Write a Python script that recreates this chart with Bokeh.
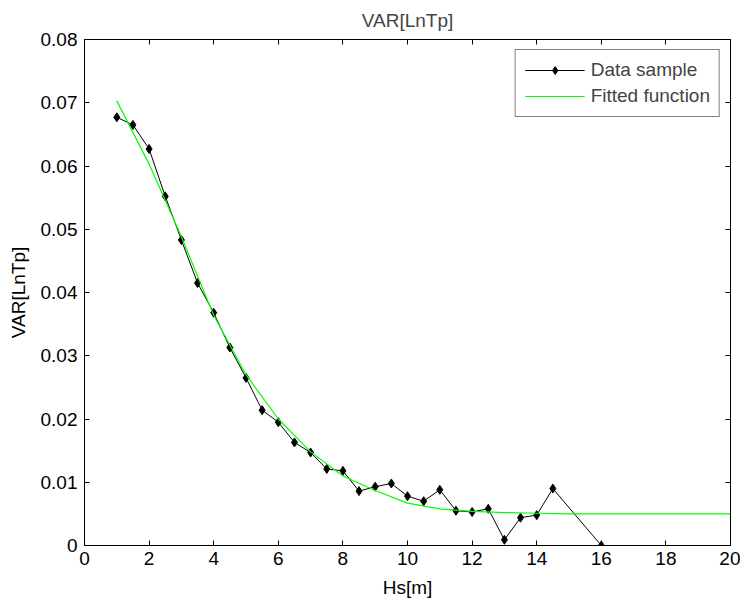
from bokeh.plotting import figure
from bokeh.models import FixedTicker, LinearAxis, Range1d
from bokeh.embed import file_html
from bokeh.resources import INLINE

# Data sample
hs = [1, 1.5, 2, 2.5, 3, 3.5, 4, 4.5, 5, 5.5, 6, 6.5, 7, 7.5, 8, 8.5, 9, 9.5,
      10, 10.5, 11, 11.5, 12, 12.5, 13, 13.5, 14, 14.5, 16]
var_lntp = [0.0677, 0.0665, 0.0627, 0.0552, 0.0483, 0.0415, 0.0368, 0.0313,
            0.0265, 0.0214, 0.0195, 0.0163, 0.0147, 0.0121, 0.0118, 0.0086,
            0.0093, 0.0098, 0.0078, 0.0070, 0.0088, 0.0055, 0.0053, 0.0058,
            0.0009, 0.0044, 0.0048, 0.0090, 0.0000]

# Fitted function
fit_x = [1, 2, 3, 4, 5, 6, 7, 8, 9, 10, 11, 12, 13, 14, 15, 16, 17, 18, 19, 20]
fit_y = [0.0703, 0.0603, 0.0488, 0.0364, 0.0270, 0.0200, 0.0148, 0.0110,
         0.0087, 0.0067, 0.0058, 0.0054, 0.0052, 0.0051, 0.0050, 0.0050,
         0.0050, 0.0050, 0.0050, 0.0050]

xticks = [0, 2, 4, 6, 8, 10, 12, 14, 16, 18, 20]
yticks = [0, 0.01, 0.02, 0.03, 0.04, 0.05, 0.06, 0.07, 0.08]
ytick_labels = ["0", "0.01", "0.02", "0.03", "0.04", "0.05", "0.06", "0.07", "0.08"]

FONT = "Liberation Sans"
FS = "19px"

p = figure(width=740, height=601, output_backend="svg", toolbar_location=None,
           x_range=Range1d(0, 20), y_range=Range1d(0, 0.08),
           min_border_left=84, min_border_right=10, min_border_top=39,
           min_border_bottom=56)
p.title.text = "VAR[LnTp]"
p.title.align = "center"
p.title.vertical_align = "top"
p.title.text_font = FONT
p.title.text_font_size = FS
p.title.text_font_style = "normal"
p.title.standoff = 14

p.xgrid.visible = False
p.ygrid.visible = False
p.outline_line_color = "black"
p.outline_line_width = 1
p.background_fill_color = "white"
p.border_fill_color = "white"

def style_axis(ax):
    ax.axis_line_color = "black"
    ax.major_tick_in = 5
    ax.major_tick_out = 0
    ax.minor_tick_in = 0
    ax.minor_tick_out = 0
    ax.major_tick_line_color = "black"
    ax.major_label_text_font = FONT
    ax.major_label_text_font_size = FS
    ax.major_label_text_color = "black"
    ax.axis_label_text_font = FONT
    ax.axis_label_text_font_size = FS
    ax.axis_label_text_font_style = "normal"
    ax.axis_label_text_color = "black"

xa = p.xaxis[0]
xa.ticker = FixedTicker(ticks=xticks)
xa.axis_label = "Hs[m]"
xa.major_label_standoff = 6
xa.axis_label_standoff = 9
style_axis(xa)

ya = p.yaxis[0]
ya.ticker = FixedTicker(ticks=yticks)
ya.major_label_overrides = {t: l for t, l in zip(yticks, ytick_labels)}
ya.axis_label = "VAR[LnTp]"
ya.major_label_standoff = 7
ya.axis_label_standoff = 9
style_axis(ya)

top = LinearAxis(ticker=FixedTicker(ticks=xticks), major_label_standoff=0,
                 major_label_overrides={t: "" for t in xticks})
style_axis(top)
p.add_layout(top, "above")
right = LinearAxis(ticker=FixedTicker(ticks=yticks), major_label_standoff=0,
                   major_label_overrides={t: "" for t in yticks})
style_axis(right)
p.add_layout(right, "right")

p.line(hs, var_lntp, line_color="black", line_width=1, legend_label="Data sample")
p.scatter(hs, var_lntp, marker="diamond", size=9, fill_color="black",
          line_color="black", legend_label="Data sample")
p.line(fit_x, fit_y, line_color="#00ff00", line_width=1.2, legend_label="Fitted function")

lg = p.legend[0]
lg.location = "top_right"
lg.margin = 10
lg.padding = 9
lg.spacing = 4
lg.glyph_width = 60
lg.glyph_height = 20
lg.label_height = 20
lg.label_standoff = 6
lg.label_text_font = FONT
lg.label_text_font_size = FS
lg.border_line_color = "black"
lg.border_line_width = 1
lg.background_fill_alpha = 1

open("out.html", "w").write(file_html(p, INLINE))
